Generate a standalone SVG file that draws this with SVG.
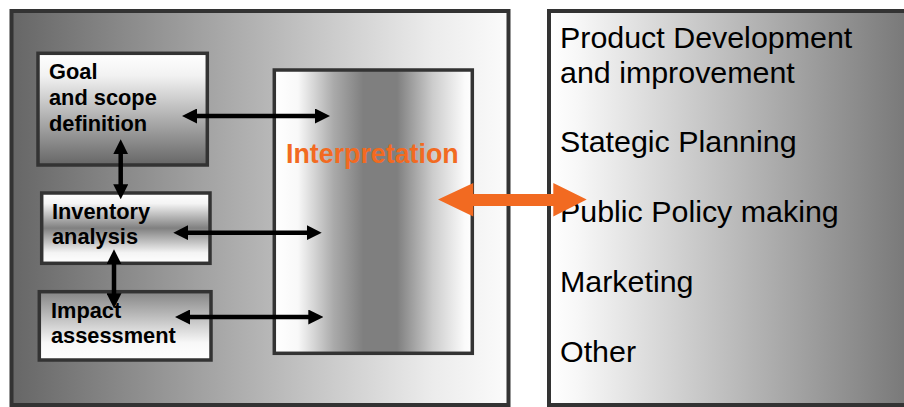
<svg xmlns="http://www.w3.org/2000/svg" width="904" height="407" viewBox="0 0 904 407">
  <defs>
    <linearGradient id="gLeft" x1="0" y1="0" x2="1" y2="0">
      <stop offset="0" stop-color="#666666"/>
      <stop offset="0.5" stop-color="#b4b4b4"/>
      <stop offset="0.85" stop-color="#ececec"/>
      <stop offset="1" stop-color="#fbfbfb"/>
    </linearGradient>
    <linearGradient id="gRight" x1="0" y1="0" x2="1" y2="0">
      <stop offset="0" stop-color="#ffffff"/>
      <stop offset="0.08" stop-color="#f7f7f7"/>
      <stop offset="1" stop-color="#777777"/>
    </linearGradient>
    <linearGradient id="gGoal" x1="0" y1="0" x2="0" y2="1">
      <stop offset="0" stop-color="#ffffff"/>
      <stop offset="0.2" stop-color="#f2f2f2"/>
      <stop offset="1" stop-color="#666666"/>
    </linearGradient>
    <linearGradient id="gInv" x1="0" y1="0" x2="0" y2="1">
      <stop offset="0" stop-color="#ffffff"/>
      <stop offset="0.15" stop-color="#f4f4f4"/>
      <stop offset="0.5" stop-color="#808080"/>
      <stop offset="0.85" stop-color="#f4f4f4"/>
      <stop offset="1" stop-color="#ffffff"/>
    </linearGradient>
    <linearGradient id="gImp" x1="0" y1="0" x2="0" y2="1">
      <stop offset="0" stop-color="#858585"/>
      <stop offset="0.75" stop-color="#f8f8f8"/>
      <stop offset="1" stop-color="#ffffff"/>
    </linearGradient>
    <linearGradient id="gInt" x1="0" y1="0" x2="1" y2="0">
      <stop offset="0" stop-color="#ffffff"/>
      <stop offset="0.12" stop-color="#f8f8f8"/>
      <stop offset="0.3" stop-color="#aaaaaa"/>
      <stop offset="0.45" stop-color="#7f7f7f"/>
      <stop offset="0.62" stop-color="#7f7f7f"/>
      <stop offset="0.8" stop-color="#cccccc"/>
      <stop offset="0.96" stop-color="#fafafa"/>
      <stop offset="1" stop-color="#ffffff"/>
    </linearGradient>
    <marker id="ah" viewBox="0 0 15 15" refX="5" refY="7.5" markerWidth="15" markerHeight="15" markerUnits="userSpaceOnUse" orient="auto-start-reverse">
      <path d="M0,0 L15,7.5 L0,15 Z" fill="#000"/>
    </marker>
  </defs>
  <style>
    .panel { stroke: #333333; stroke-width: 4; }
    .box { stroke: #333333; stroke-width: 3.5; }
    .lbl { font-family: "Liberation Sans", Arial, sans-serif; font-weight: bold; font-size: 21.8px; fill: #000; }
    .use { font-family: "Liberation Sans", Arial, sans-serif; font-size: 30.4px; fill: #000; }
    .interp { font-family: "Liberation Sans", Arial, sans-serif; font-weight: bold; font-size: 26.8px; fill: #f26a21; }
    .conn { stroke: #000; stroke-width: 4.5; fill: none; marker-start: url(#ah); marker-end: url(#ah); }
  </style>

  <g id="lca-panel">
    <rect class="panel" x="11.5" y="11" width="497" height="394" fill="url(#gLeft)"/>
  </g>
  <g id="applications-panel">
    <rect class="panel" x="549" y="11" width="362" height="394" fill="url(#gRight)"/>
    <text class="use" x="560" y="47.5">Product Development</text>
    <text class="use" x="560" y="82.5">and improvement</text>
    <text class="use" x="560" y="152">Stategic Planning</text>
    <text class="use" x="560" y="222">Public Policy making</text>
    <text class="use" x="560" y="292">Marketing</text>
    <text class="use" x="560" y="362">Other</text>
  </g>
  <g id="goal">
    <rect class="box" x="38" y="53.3" width="169.3" height="111.7" fill="url(#gGoal)"/>
    <text class="lbl" x="49" y="79">Goal</text>
    <text class="lbl" x="49" y="105">and scope</text>
    <text class="lbl" x="49" y="130.5">definition</text>
  </g>
  <g id="inventory">
    <rect class="box" x="41.7" y="193" width="168.3" height="70.3" fill="url(#gInv)"/>
    <text class="lbl" x="52" y="219.3">Inventory</text>
    <text class="lbl" x="52" y="244.3">analysis</text>
  </g>
  <g id="impact">
    <rect class="box" x="39.3" y="291.7" width="171.7" height="68.3" fill="url(#gImp)"/>
    <text class="lbl" x="51" y="318.3">Impact</text>
    <text class="lbl" x="51" y="343.3">assessment</text>
  </g>
  <g id="interpretation">
    <rect class="box" x="274.3" y="70" width="198" height="283.3" fill="url(#gInt)"/>
    <text class="interp" x="286" y="163.3">Interpretation</text>
  </g>

  <g id="connectors">
    <line class="conn" x1="192" y1="116" x2="320" y2="116"/>
    <line class="conn" x1="183.3" y1="232.7" x2="311.7" y2="232.7"/>
    <line class="conn" x1="185" y1="317" x2="313.3" y2="317"/>
    <line class="conn" x1="120.7" y1="149.3" x2="120.7" y2="189.3"/>
    <line class="conn" x1="114" y1="259.3" x2="114" y2="298.3"/>
    <polygon points="438,199.5 473.3,183 473.3,194 553.3,194 553.3,183 586.7,199.5 553.3,216.5 553.3,206 473.3,206 473.3,216.5" fill="#f26a21"/>
  </g>
</svg>
